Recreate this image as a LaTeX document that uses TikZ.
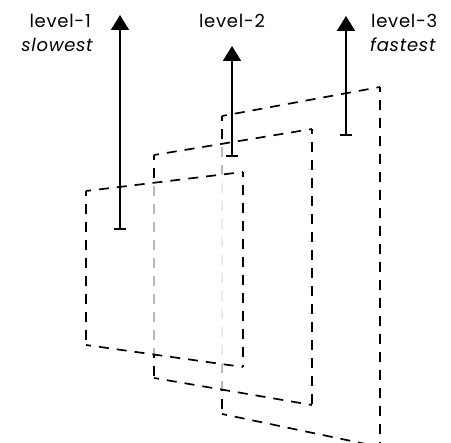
\documentclass[tikz,border=0pt]{standalone}
\usepackage{fontspec}
\setmainfont{Poppins}[LetterSpace=4]
\usetikzlibrary{arrows.meta}
\begin{document}
\begin{tikzpicture}[x=1pt,y=-1pt,
  planefill/.style={fill=white, fill opacity=0.72},
  edge/.style={line width=1.7pt, dash pattern=on 10pt off 8pt, dash phase=5pt},
  levarrow/.style={line width=2pt, {Bar[width=12pt,line width=1.8pt]}-{Triangle[width=18pt,length=15pt]}},
  lab/.style={font=\fontsize{18}{22}\selectfont, inner sep=0pt}]
\useasboundingbox (0,0) rectangle (451,443);
% plane 3 (back)
\coordinate (c3a) at (222,116); \coordinate (c3b) at (380,87);
\coordinate (c3c) at (380,447); \coordinate (c3d) at (222,414);
\fill[planefill] (c3a) -- (c3b) -- (c3c) -- (c3d) -- cycle;
\draw[edge] (c3a) -- (c3b); \draw[edge] (c3b) -- (c3c);
\draw[edge] (c3d) -- (c3c); \draw[edge] (c3a) -- (c3d);
% plane 2
\coordinate (c2a) at (154,155); \coordinate (c2b) at (312,129);
\coordinate (c2c) at (312,405); \coordinate (c2d) at (154,378);
\fill[planefill] (c2a) -- (c2b) -- (c2c) -- (c2d) -- cycle;
\draw[edge] (c2a) -- (c2b); \draw[edge] (c2b) -- (c2c);
\draw[edge] (c2d) -- (c2c); \draw[edge] (c2a) -- (c2d);
% plane 1 (front)
\coordinate (c1a) at (86,191); \coordinate (c1b) at (243,172);
\coordinate (c1c) at (243,367); \coordinate (c1d) at (86,345);
\fill[planefill] (c1a) -- (c1b) -- (c1c) -- (c1d) -- cycle;
\draw[edge] (c1a) -- (c1b); \draw[edge] (c1b) -- (c1c);
\draw[edge] (c1d) -- (c1c); \draw[edge] (c1a) -- (c1d);
% arrows
\coordinate (a1s) at (120,230); \coordinate (a1e) at (120,15);
\coordinate (a2s) at (232,157); \coordinate (a2e) at (232,46);
\coordinate (a3s) at (346,136); \coordinate (a3e) at (346,16);
\draw[levarrow] (a1s) -- (a1e);
\draw[levarrow] (a2s) -- (a2e);
\draw[levarrow] (a3s) -- (a3e);
% labels
\node[lab, anchor=base east] (l1) at (91,28) {level-1};
\node[lab, anchor=base east] (s1) at (93,52) {\itshape slowest};
\node[lab, anchor=base] (l2) at (232,28) {level-2};
\node[lab, anchor=base west] (l3) at (371,28) {level-3};
\node[lab, anchor=base west] (f3) at (370,52) {\itshape fastest};
\end{tikzpicture}
\end{document}
